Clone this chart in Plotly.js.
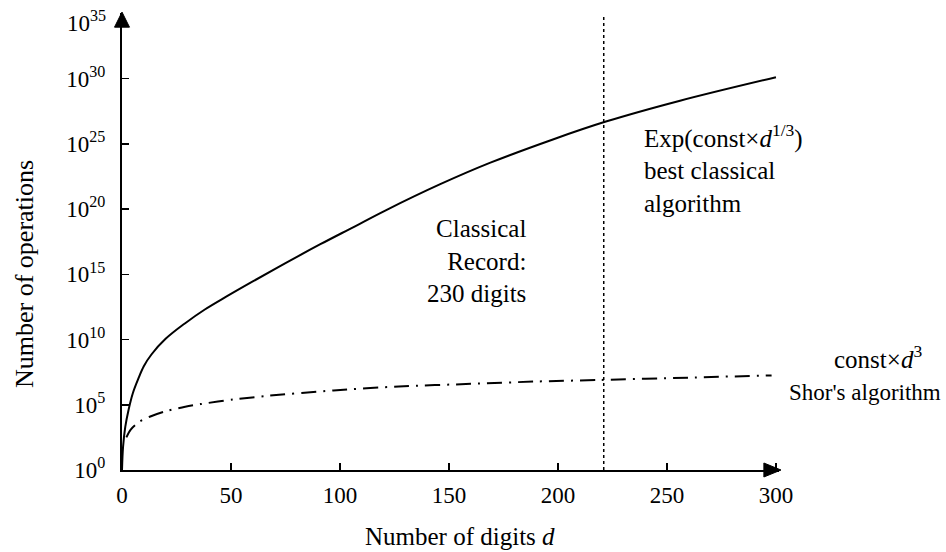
<!DOCTYPE html>
<html>
<head>
<meta charset="utf-8">
<script src="https://cdn.plot.ly/plotly-3.0.1.min.js"></script>
<style>html,body{margin:0;padding:0;background:#fff;}#chart{width:946px;height:552px;}</style>
</head>
<body>
<div id="chart"></div>
<script>
// Number of digits d (x) and log10(number of operations)
const classicalDigits = [0, 0.5, 1.5, 3, 5, 7.5, 10, 13.5, 20, 29, 38, 48, 60, 75, 91, 106, 121, 146, 169, 198, 222, 256, 300];
const classicalLog10  = [0, 1.8, 3.3, 4.6, 5.9, 7.0, 7.95, 8.85, 10.05, 11.25, 12.3, 13.3, 14.45, 15.85, 17.3, 18.6, 19.9, 21.9, 23.55, 25.35, 26.7, 28.3, 30.1];

const shorDigits = [2, 4, 8, 13, 20, 29, 36, 51, 66, 97, 127, 160, 190, 219, 260, 298];
const shorLog10  = [2.5, 3.1, 3.7, 4.1, 4.5, 4.85, 5.05, 5.4, 5.67, 6.1, 6.4, 6.6, 6.78, 6.9, 7.08, 7.25];

const recordDigits = 221;

const xTickVals = [0, 50, 100, 150, 200, 250, 300];
const yTickExponents = [0, 5, 10, 15, 20, 25, 30, 35];

const FONT = "Liberation Serif, Times New Roman, serif";

// the top label (10^35) sits beside the arrowhead, drawn as an annotation below
const yAxisExponents = yTickExponents.slice(0, -1);
const topExponent = yTickExponents[yTickExponents.length - 1];
const yTickVals = yAxisExponents.map(e => Math.pow(10, e));
const yTickText = yAxisExponents.map(e => "10<sup>" + e + "</sup>");

const traces = [
  {
    x: classicalDigits,
    y: classicalLog10.map(v => Math.pow(10, v)),
    mode: "lines",
    line: {color: "#000", width: 2, shape: "spline", smoothing: 1.0},
    hoverinfo: "skip",
    showlegend: false
  },
  {
    x: shorDigits,
    y: shorLog10.map(v => Math.pow(10, v)),
    mode: "lines",
    line: {color: "#000", width: 2, shape: "spline", smoothing: 0.8, dash: "15px,7px,2px,7px"},
    hoverinfo: "skip",
    showlegend: false
  }
];

const layout = {
  width: 946,
  height: 552,
  margin: {l: 122, r: 167, t: 13, b: 82, pad: 0},
  paper_bgcolor: "#fff",
  plot_bgcolor: "#fff",
  font: {family: FONT, color: "#000", size: 23},
  showlegend: false,
  xaxis: {
    range: [0, 301.4],
    showgrid: false,
    zeroline: false,
    showline: true,
    linecolor: "#000",
    linewidth: 2,
    ticks: "inside",
    ticklen: 7,
    tickwidth: 1.5,
    tickcolor: "#000",
    tickvals: xTickVals,
    ticktext: xTickVals.map(String),
    tickfont: {family: FONT, size: 23, color: "#000"},
    ticklabelstandoff: 3,
    ticklabeloverflow: "allow",
    fixedrange: true
  },
  yaxis: {
    type: "log",
    range: [0, 35.02],
    showgrid: false,
    zeroline: false,
    showline: true,
    linecolor: "#000",
    linewidth: 2,
    ticks: "inside",
    ticklen: 7,
    tickwidth: 1.5,
    tickcolor: "#000",
    tickvals: yTickVals,
    ticktext: yTickText,
    tickfont: {family: FONT, size: 23, color: "#000"},
    ticklabelstandoff: 10,
    ticklabeloverflow: "allow",
    fixedrange: true
  },
  shapes: [
    {type: "line", xref: "x", yref: "paper", x0: recordDigits, x1: recordDigits, y0: 0, y1: 0.995,
     line: {color: "#000", width: 1.5, dash: "dot"}},
    {type: "path", xref: "paper", yref: "paper",
     path: "M 0 1.002 L -0.0114 0.969 L 0.0114 0.969 Z", fillcolor: "#000", line: {color: "#000", width: 1}},
    {type: "path", xref: "paper", yref: "paper",
     path: "M 1.003 0 L 0.977 0.0153 L 0.977 -0.0153 Z", fillcolor: "#000", line: {color: "#000", width: 1}}
  ],
  annotations: [
    {xref: "paper", yref: "paper", x: -0.0213, y: 0.982, xanchor: "right", yanchor: "middle",
     text: "10<sup>" + topExponent + "</sup>", showarrow: false, font: {family: FONT, size: 23, color: "#000"}},
    {xref: "paper", yref: "paper", x: 0.5145, y: -0.1466, xanchor: "center", yanchor: "middle",
     text: "Number of digits <i>d</i>", showarrow: false, font: {family: FONT, size: 25, color: "#000"}},
    {xref: "paper", yref: "paper", x: -0.1476, y: 0.4289, xanchor: "center", yanchor: "middle", textangle: -90,
     text: "Number of operations", showarrow: false, font: {family: FONT, size: 26, color: "#000"}},
    {xref: "paper", yref: "paper", x: 0.618, y: 0.458, xanchor: "right", yanchor: "middle", align: "right",
     text: "Classical<br>Record:<br>230 digits", showarrow: false, font: {family: FONT, size: 25, color: "#000"}},
    {xref: "paper", yref: "paper", x: 0.7915, y: 0.659, xanchor: "left", yanchor: "middle", align: "left",
     text: "Exp(const×<i>d</i><sup>1/3</sup>)<br>best classical<br>algorithm", showarrow: false,
     font: {family: FONT, size: 25, color: "#000"}},
    {xref: "paper", yref: "paper", x: 1.1507, y: 0.2473, xanchor: "center", yanchor: "middle",
     text: "const×<i>d</i><sup>3</sup>", showarrow: false, font: {family: FONT, size: 25, color: "#000"}},
    {xref: "paper", yref: "paper", x: 1.2495, y: 0.1685, xanchor: "right", yanchor: "middle",
     text: "Shor's algorithm", showarrow: false, font: {family: FONT, size: 23, color: "#000"}}
  ]
};

Plotly.newPlot("chart", traces, layout, {staticPlot: true, displayModeBar: false});
</script>
</body>
</html>
